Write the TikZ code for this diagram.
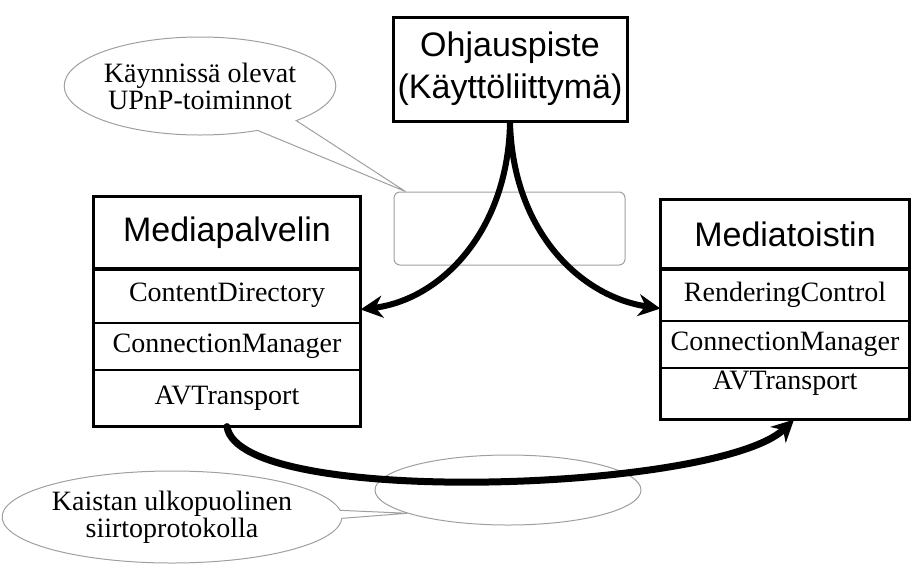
\documentclass[tikz,border=0pt]{standalone}
\usepackage{fontspec}
\setmainfont{Liberation Serif}
\setsansfont{Liberation Sans}
\usetikzlibrary{arrows.meta,shapes.geometric,shapes.callouts}
\begin{document}
\begin{tikzpicture}[x=1pt,y=-1pt,
  title/.style={font=\sffamily\fontsize{34}{42}\selectfont, align=center},
  svc/.style={draw, line width=1.2pt, font=\fontsize{28}{30}\selectfont, inner sep=0pt},
  greyline/.style={draw=gray!75, line width=1pt},
  bubble/.style={greyline, ellipse callout, inner sep=0pt, font=\fontsize{28}{27}\selectfont, align=center},
  big/.style={line width=6pt, -{Stealth[length=22pt,width=22pt,inset=7pt]}}
]
\path[use as bounding box] (0,0) rectangle (912,563);
\clip (0,0) rectangle (912,563);

% background grey shapes
\node[greyline, rounded corners=6pt, minimum width=231pt, minimum height=73pt] (ui) at (509.5,228.5) {};
\node[greyline, ellipse, minimum width=266pt, minimum height=70pt] (tp) at (508,490) {};
\coordinate (tip1) at ([xshift=12pt]ui.north west);
\coordinate (tip2) at (tp.193);

% callouts
\node[bubble, minimum width=266pt, minimum height=98pt, callout absolute pointer={(tip1)}, callout pointer arc=20] (b1) at (200,86) {Käynnissä olevat\\UPnP-toiminnot};
\node[bubble, minimum width=318pt, minimum height=92pt, callout absolute pointer={(tip2)}, callout pointer arc=10] (b2) at (172,517) {Kaistan ulkopuolinen\\siirtoprotokolla};

% control point
\node[draw, line width=3pt, minimum width=234pt, minimum height=104pt, title] (oh) at (510,69) {Ohjauspiste\\(Käyttöliittymä)};

% media server
\node[svc, minimum width=266pt, minimum height=71pt, title] (mp) at (227,232.5) {Mediapalvelin};
\node[svc, minimum width=266pt, minimum height=55pt] (cdL) at (227,295.5) {ContentDirectory};
\node[svc, minimum width=266pt, minimum height=47pt] (cmL) at (227,346.5) {ConnectionManager};
\node[svc, minimum width=266pt, minimum height=56pt] (avL) at (227,398) {AVTransport};
\draw[line width=3pt] (mp.north west) rectangle (avL.south east);
\draw[line width=4pt] (mp.south west) -- (mp.south east);

% media renderer
\node[svc, minimum width=248pt, minimum height=68pt, title] (mt) at (785,234) {Mediatoistin};
\node[svc, minimum width=248pt, minimum height=53pt] (rc) at (785,294.5) {RenderingControl};
\node[svc, minimum width=248pt, minimum height=47pt] (cmR) at (785,344.5) {ConnectionManager};
\node[svc, minimum width=248pt, minimum height=51pt,
      label={[font=\fontsize{28}{30}\selectfont, yshift=10pt]center:AVTransport}] (avR) at (785,393.5) {};
\draw[line width=3pt] (mt.north west) rectangle (avR.south east);
\draw[line width=4pt] (mt.south west) -- (mt.south east);

% arrows
\draw[big] (oh.south) .. controls +(-2,109) and +(80,-10) .. ([yshift=-14pt]cdL.east);
\draw[big] (oh.south) .. controls +(3,109) and +(-80,-12) .. ([yshift=-14pt]rc.west);
\draw[big, line width=7pt, line cap=round] (avL.south) .. controls +(12,82) and +(-75,72) .. ([xshift=9pt]avR.south);
\end{tikzpicture}
\end{document}
